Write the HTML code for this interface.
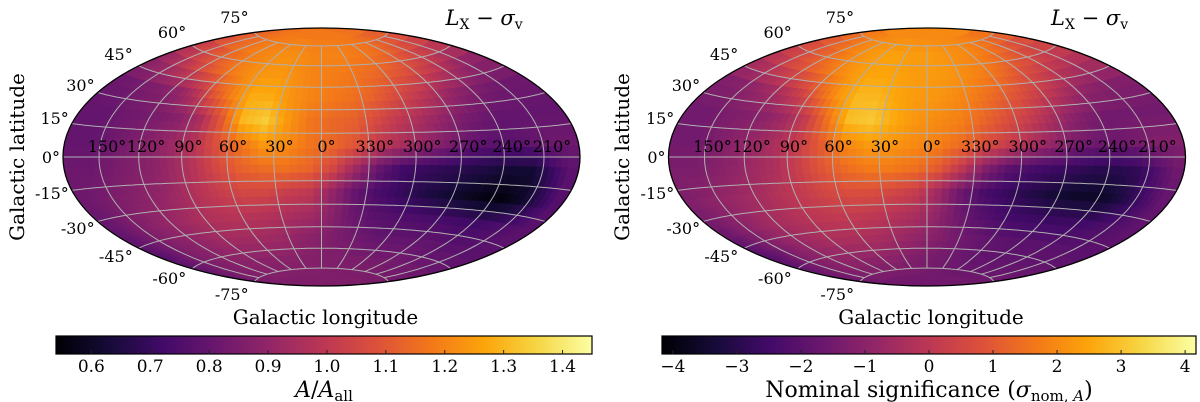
<!DOCTYPE html>
<html><head><meta charset="utf-8"><style>
html,body{margin:0;padding:0;background:#fff;}
svg{display:block;font-family:"DejaVu Serif","Liberation Serif",serif;}
</style></head><body>
<svg id="fig" width="1200" height="402" viewBox="0 0 1200 402" xmlns="http://www.w3.org/2000/svg">
<defs>
<linearGradient id="inferno" x1="0" x2="1" y1="0" y2="0">
<stop offset="0" stop-color="#000004"/><stop offset="0.1" stop-color="#160b39"/><stop offset="0.2" stop-color="#420a68"/><stop offset="0.3" stop-color="#6a176e"/><stop offset="0.4" stop-color="#932667"/><stop offset="0.5" stop-color="#bc3754"/><stop offset="0.6" stop-color="#dd513a"/><stop offset="0.7" stop-color="#f37819"/><stop offset="0.8" stop-color="#fca50a"/><stop offset="0.9" stop-color="#f6d746"/><stop offset="1" stop-color="#fcffa4"/>
</linearGradient>
</defs>
<g id="panelL"></g>
<g id="panelR"></g>
</svg>
<script>
// Latitude band centres (rows, top to bottom) and longitude bin centres (columns, left to right on map)
const latBands = [82.5,67.5,52.5,37.5,22.5,7.5,-7.5,-22.5,-37.5,-52.5,-67.5,-82.5];
const lonBins = [172.5,157.5,142.5,127.5,112.5,97.5,82.5,67.5,52.5,37.5,22.5,7.5,352.5,337.5,322.5,307.5,292.5,277.5,262.5,247.5,232.5,217.5,202.5,187.5];
const ratioValues = [
[1.16,1.16,1.17,1.17,1.18,1.18,1.18,1.18,1.18,1.18,1.18,1.18,1.18,1.18,1.18,1.18,1.18,1.18,1.17,1.17,1.16,1.16,1.16,1.16],
[1.08,1.10,1.13,1.15,1.17,1.19,1.20,1.21,1.22,1.22,1.21,1.20,1.20,1.20,1.19,1.18,1.17,1.15,1.13,1.10,1.08,1.06,1.04,1.04],
[0.92,0.95,0.99,1.04,1.09,1.14,1.19,1.22,1.24,1.24,1.22,1.20,1.19,1.18,1.16,1.14,1.11,1.08,1.04,1.00,0.96,0.92,0.90,0.90],
[0.82,0.83,0.85,0.87,0.90,0.98,1.10,1.20,1.28,1.28,1.23,1.20,1.18,1.16,1.13,1.08,1.03,0.98,0.92,0.88,0.85,0.83,0.82,0.82],
[0.80,0.80,0.82,0.83,0.85,0.88,0.95,1.10,1.30,1.34,1.24,1.17,1.14,1.12,1.06,1.00,0.95,0.90,0.85,0.82,0.80,0.80,0.80,0.80],
[0.80,0.80,0.82,0.85,0.88,0.92,0.98,1.08,1.16,1.24,1.22,1.17,1.14,1.09,1.00,0.95,0.90,0.85,0.80,0.78,0.78,0.80,0.82,0.82],
[0.82,0.82,0.84,0.86,0.88,0.92,0.98,1.05,1.12,1.15,1.16,1.13,1.05,0.92,0.80,0.72,0.70,0.68,0.66,0.64,0.62,0.62,0.70,0.78],
[0.82,0.84,0.86,0.88,0.90,0.93,0.98,1.02,1.05,1.05,1.02,1.00,0.90,0.80,0.74,0.70,0.66,0.63,0.60,0.57,0.56,0.60,0.68,0.76],
[0.80,0.84,0.87,0.90,0.92,0.95,0.97,0.98,0.98,0.97,0.95,0.93,0.88,0.82,0.78,0.76,0.75,0.74,0.73,0.72,0.72,0.74,0.76,0.78],
[0.78,0.82,0.86,0.88,0.90,0.92,0.93,0.93,0.93,0.92,0.90,0.88,0.86,0.84,0.82,0.80,0.80,0.80,0.80,0.79,0.78,0.78,0.78,0.78],
[0.82,0.84,0.86,0.87,0.88,0.88,0.88,0.88,0.88,0.88,0.87,0.87,0.86,0.86,0.85,0.85,0.84,0.84,0.84,0.83,0.83,0.83,0.82,0.82],
[0.86,0.86,0.86,0.86,0.86,0.86,0.86,0.86,0.86,0.86,0.86,0.86,0.86,0.86,0.86,0.86,0.86,0.86,0.86,0.86,0.86,0.86,0.86,0.86]
];
const sigmaValues = [
[2.0,2.0,2.0,2.0,2.0,2.0,2.0,2.0,2.0,2.0,2.0,2.0,2.0,2.0,2.0,2.0,2.0,2.0,2.0,2.0,2.0,2.0,2.0,2.0],
[1.0,1.1,1.3,1.5,1.8,2.0,2.2,2.3,2.4,2.4,2.3,2.3,2.3,2.2,2.1,2.0,1.9,1.7,1.5,1.3,1.0,0.8,0.7,0.8],
[-0.1,0.1,0.5,0.8,1.2,1.6,2.0,2.3,2.5,2.5,2.4,2.3,2.3,2.2,2.0,1.8,1.5,1.1,0.7,0.4,0.1,-0.1,-0.2,-0.2],
[-1.2,-1.1,-0.9,-0.6,-0.2,0.4,1.3,2.2,2.8,2.8,2.5,2.3,2.2,2.0,1.7,1.3,0.9,0.4,0,-0.5,-0.9,-1.1,-1.2,-1.2],
[-1.5,-1.5,-1.3,-1.2,-1.0,-0.6,0.2,1.5,2.9,3.1,2.6,2.2,2.0,1.8,1.3,0.8,0.3,-0.3,-0.9,-1.3,-1.5,-1.5,-1.5,-1.5],
[-1.5,-1.5,-1.3,-1.0,-0.7,-0.3,0.3,1.1,1.9,2.3,2.2,2.0,1.8,1.4,0.7,0.2,-0.4,-0.9,-1.4,-1.6,-1.6,-1.4,-1.2,-1.2],
[-1.3,-1.3,-1.1,-0.9,-0.6,-0.3,0.3,0.9,1.4,1.7,1.7,1.5,1.0,0,-1.2,-2.0,-2.4,-2.6,-2.8,-3.0,-3.0,-2.8,-2.2,-1.6],
[-1.2,-1.0,-0.8,-0.6,-0.4,-0.1,0.2,0.5,0.7,0.7,0.5,0.2,-0.6,-1.6,-2.3,-2.7,-3.0,-3.3,-3.5,-3.6,-3.5,-3.0,-2.4,-1.8],
[-1.6,-1.2,-0.9,-0.6,-0.4,-0.2,0,0.1,0.1,0,-0.2,-0.4,-0.9,-1.5,-2.0,-2.3,-2.5,-2.6,-2.6,-2.6,-2.5,-2.3,-2.1,-1.9],
[-2.0,-1.6,-1.2,-0.9,-0.7,-0.5,-0.4,-0.4,-0.4,-0.5,-0.7,-0.9,-1.1,-1.4,-1.6,-1.8,-1.9,-2.0,-2.0,-2.0,-2.0,-2.0,-2.0,-2.0],
[-1.6,-1.4,-1.2,-1.1,-1.0,-1.0,-1.0,-1.0,-1.0,-1.1,-1.2,-1.3,-1.4,-1.5,-1.6,-1.7,-1.8,-1.8,-1.8,-1.8,-1.8,-1.8,-1.7,-1.7],
[-1.5,-1.5,-1.5,-1.5,-1.5,-1.5,-1.5,-1.5,-1.5,-1.5,-1.5,-1.5,-1.5,-1.5,-1.5,-1.5,-1.5,-1.5,-1.5,-1.5,-1.5,-1.5,-1.5,-1.5]
];
const ratioTicks = [0.6,0.7,0.8,0.9,1.0,1.1,1.2,1.3,1.4];
const ratioTickLabels = ["0.6","0.7","0.8","0.9","1.0","1.1","1.2","1.3","1.4"];
const sigmaTicks = [-4,-3,-2,-1,0,1,2,3,4];
const sigmaTickLabels = ["\u22124","\u22123","\u22122","\u22121","0","1","2","3","4"];
const lonLabels = ["150°","120°","90°","60°","30°","0°","330°","300°","270°","240°","210°"];
const lonLabelAngles = [150,120,90,60,30,0,-30,-60,-90,-120,-150];
const latLabelAngles = [75,60,45,30,15,0,-15,-30,-45,-60,-75];

const NS="http://www.w3.org/2000/svg";
const cmap=[[0,0,4],[22,11,57],[66,10,104],[106,23,110],[147,38,103],[188,55,84],[221,81,58],[243,120,25],[252,165,10],[246,215,70],[252,255,164]];
function color(t){t=Math.max(0,Math.min(1,t));const f=t*10,i=Math.min(9,Math.floor(f)),u=f-i;const a=cmap[i],b=cmap[i+1];
return "rgb("+[0,1,2].map(k=>Math.round(a[k]+(b[k]-a[k])*u)).join(",")+")";}
function el(tag,attrs,parent){const e=document.createElementNS(NS,tag);for(const k in attrs)e.setAttribute(k,attrs[k]);if(parent)parent.appendChild(e);return e;}
function hammer(lamDeg,phiDeg){const l=lamDeg*Math.PI/180,p=phiDeg*Math.PI/180;const d=Math.sqrt(1+Math.cos(p)*Math.cos(l/2));
return [2*Math.SQRT2*Math.cos(p)*Math.sin(l/2)/d/(2*Math.SQRT2), Math.SQRT2*Math.sin(p)/d/Math.SQRT2];}
function sample(vals,lam,phi){
  let f=(180-lam)/15-0.5, g=(90-phi)/15-0.5;
  f=Math.max(0,Math.min(23,f)); g=Math.max(0,Math.min(11,g));
  const i0=Math.floor(f),j0=Math.floor(g),i1=Math.min(23,i0+1),j1=Math.min(11,j0+1),u=f-i0,v=g-j0;
  return (vals[j0][i0]*(1-u)+vals[j0][i1]*u)*(1-v)+(vals[j1][i0]*(1-u)+vals[j1][i1]*u)*v;
}
function drawMap(g,cx,cy,a,b,vals,vmin,vmax){
  const P=(lam,phi)=>{const h=hammer(lam,phi);return [cx-a*h[0],cy-b*h[1]];};
  const cells=el("g",{},g);
  
  
  const st=5;
  for(let phi=90;phi>-90;phi-=st){
    for(let lam=180;lam>-180;lam-=st){
      const v=sample(vals,lam-st/2,phi-st/2);
      const c=color((v-vmin)/(vmax-vmin));
      const pts=[P(lam,phi),P(lam-st,phi),P(lam-st,phi-st),P(lam,phi-st)].map(p=>p[0].toFixed(1)+","+p[1].toFixed(1)).join(" ");
      const poly=el("polygon",{points:pts,fill:c,stroke:c,"stroke-width":"0.6"},cells);
      
      
    }
  }
  const grid=el("g",{fill:"none",stroke:"#b0b0b0","stroke-width":"1"},g);
  
  
  for(let phi=-75;phi<=75;phi+=15){let d="";for(let lam=180;lam>=-180;lam-=3){const p=P(lam,phi);d+=(lam==180?"M":"L")+p[0].toFixed(1)+","+p[1].toFixed(1);}
    const pa=el("path",{d:d},grid);}
  for(let lam=-150;lam<=180;lam+=30){let d="";for(let phi=-75;phi<=75;phi+=3){const p=P(lam,phi);d+=(phi==-75?"M":"L")+p[0].toFixed(1)+","+p[1].toFixed(1);}
    const pa=el("path",{d:d},grid);}
  const bd=el("ellipse",{cx:cx,cy:cy,rx:a,ry:b,fill:"none",stroke:"#000","stroke-width":"1.3"},g);
  
  
  lonLabelAngles.forEach((lam,i)=>{const p=P(lam,0);
    const t=el("text",{x:(p[0]+5+Math.abs(lam)/50).toFixed(1),y:cy-5,"font-size":"16","text-anchor":"middle",fill:"#000"},g);t.textContent=lonLabels[i];
    });
  const latY={75:23,60:38,45:60,30:91,15:124,0:163,"-15":199,"-30":234,"-45":262,"-60":284,"-75":300};
  latLabelAngles.forEach(phi=>{const ex=cx-a*Math.cos(phi*Math.PI/180)-3-(Math.abs(phi)>=45?3:0);
    const t=el("text",{x:ex.toFixed(1),y:latY[phi],"font-size":"16","text-anchor":"end",fill:"#000"},g);t.textContent=phi+"°";
    });
  const tt=el("text",{x:cx+124,y:25,"font-size":"21",fill:"#000"},g);
  
  
  tt.innerHTML='<tspan font-style="italic">L</tspan><tspan font-size="14" dy="4">X</tspan><tspan dy="-4"> \u2212 </tspan><tspan font-style="italic">σ</tspan><tspan font-size="14" dy="4">v</tspan>';
}
function drawColorbar(g,x0,w,vmin,vmax,ticks,labels,labelHtml,labelCx){
  const y0=336,h=18;
  const r=el("rect",{x:x0,y:y0,width:w,height:h,fill:"url(#inferno)",stroke:"#000","stroke-width":"1.2"},g);
  
  
  ticks.forEach((v,i)=>{const x=x0+(v-vmin)/(vmax-vmin)*w;
    const tk=el("line",{x1:x,x2:x,y1:y0+h,y2:y0+h-4,stroke:"#222","stroke-width":"1"},g);
    
    const t=el("text",{x:x,y:y0+h+18,"font-size":"17","text-anchor":"middle",fill:"#000"},g);t.textContent=labels[i];
    });
  const lb=el("text",{x:labelCx,y:397,"font-size":"22","text-anchor":"middle",fill:"#000"},g);
  
  
  lb.innerHTML=labelHtml;
}
function axisLabels(g,cx,ylx){
  const xl=el("text",{x:cx+4,y:324,"font-size":"20","text-anchor":"middle",fill:"#000"},g);xl.textContent="Galactic longitude";
  
  const yl=el("text",{x:0,y:0,"font-size":"20","text-anchor":"middle",fill:"#000",transform:"translate("+(ylx+7)+",157) rotate(-90)"},g);yl.textContent="Galactic latitude";
  
}
const gL=document.getElementById("panelL"),gR=document.getElementById("panelR");
drawMap(gL,321.5,157,258.5,129,ratioValues,0.54,1.45);
drawMap(gR,927,157,258.5,129,sigmaValues,-4.17,4.17);
axisLabels(gL,321.5,17);
axisLabels(gR,927,622);
drawColorbar(gL,56,536,0.54,1.45,ratioTicks,ratioTickLabels,'<tspan font-style="italic">A</tspan>/<tspan font-style="italic">A</tspan><tspan font-size="15" dy="4">all</tspan>',324);
drawColorbar(gR,662,534,-4.17,4.17,sigmaTicks,sigmaTickLabels,'Nominal significance (<tspan font-style="italic">σ</tspan><tspan font-size="15" dy="4">nom, </tspan><tspan font-size="15" font-style="italic" dy="0">A</tspan><tspan dy="-4">)</tspan>',929);
</script>
</body></html>
